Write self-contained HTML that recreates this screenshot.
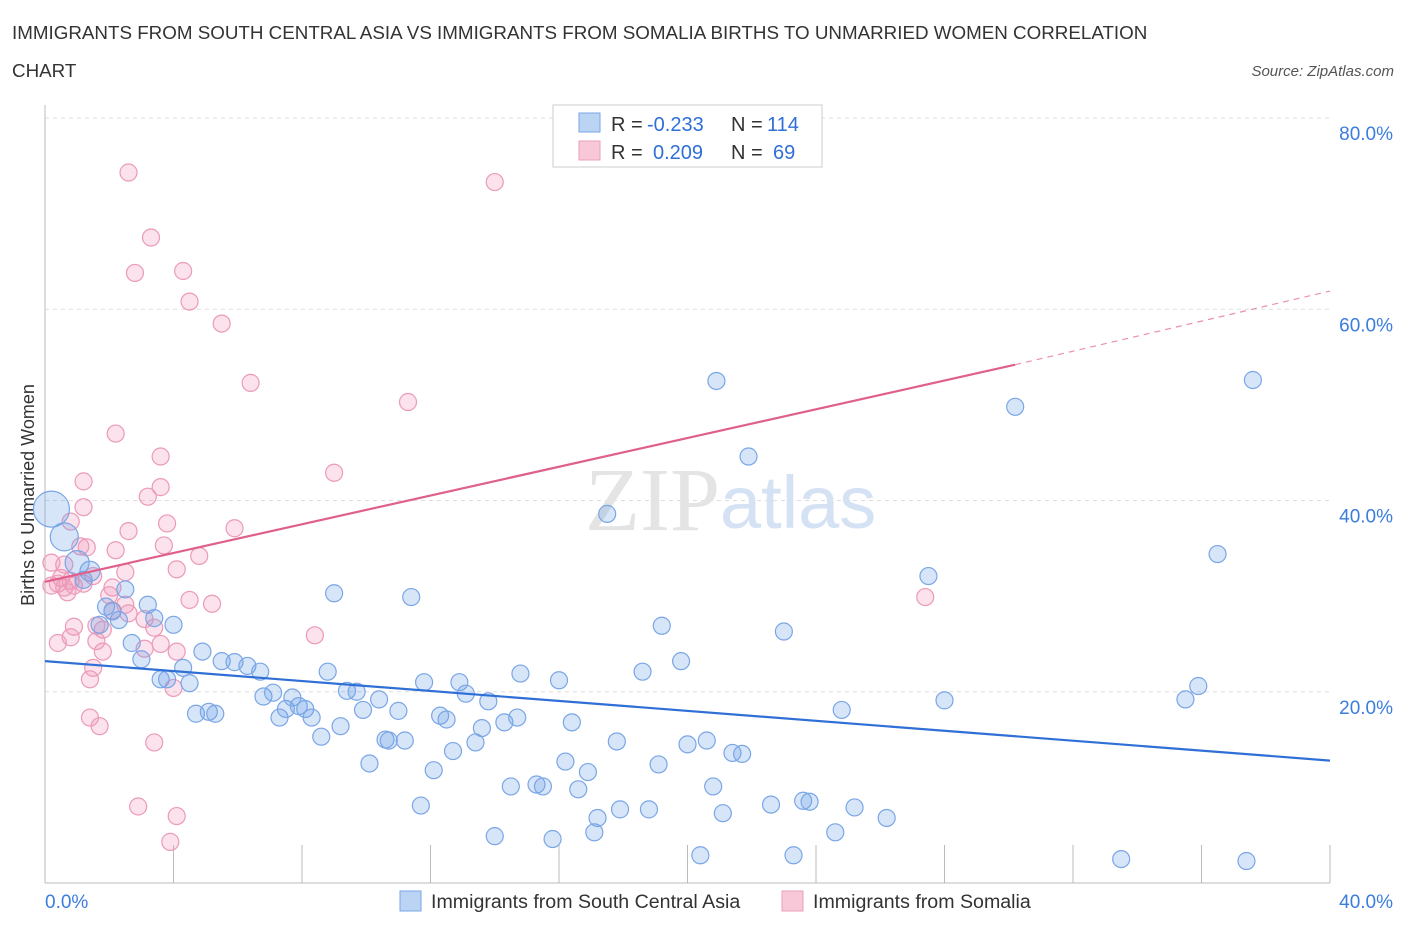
<!DOCTYPE html>
<html><head><meta charset="utf-8"><style>
body{margin:0;background:#fff;font-family:"Liberation Sans",sans-serif;}
svg{display:block}
</style></head><body>
<svg id="chart" width="1406" height="930" xmlns="http://www.w3.org/2000/svg">
<text x="12" y="39" font-size="18.8" fill="#333">IMMIGRANTS FROM SOUTH CENTRAL ASIA VS IMMIGRANTS FROM SOMALIA BIRTHS TO UNMARRIED WOMEN CORRELATION</text>
<text x="12" y="77" font-size="18.8" fill="#333">CHART</text>
<text x="1394" y="76" font-size="15" font-style="italic" fill="#555" text-anchor="end">Source: ZipAtlas.com</text>
<text transform="translate(34,495) rotate(-90)" font-size="18" fill="#333" text-anchor="middle">Births to Unmarried Women</text>
<g id="grid"></g>
<text x="720" y="530" font-size="90" font-family="Liberation Serif,serif" fill="#e4e4e4" text-anchor="end">ZIP</text>
<text x="720" y="528" font-size="74" fill="#d4e2f4">atlas</text>
<g id="points"></g>
<g id="lines"></g>
<g>
<rect x="553" y="105" width="269" height="62" fill="#fff" stroke="#ccc"/>
<rect x="579" y="113" width="21" height="19" fill="#bcd4f4" stroke="#7aa6e6"/>
<rect x="579" y="141" width="21" height="19" fill="#f8c8d8" stroke="#eaa0bc"/>
<text x="611" y="131" font-size="20" fill="#333">R =</text>
<text x="647" y="131" font-size="20" fill="#2f6fd6">-0.233</text>
<text x="731" y="131" font-size="20" fill="#333">N =</text>
<text x="767" y="131" font-size="20" fill="#2f6fd6">114</text>
<text x="611" y="159" font-size="20" fill="#333">R =</text>
<text x="653" y="159" font-size="20" fill="#2f6fd6">0.209</text>
<text x="731" y="159" font-size="20" fill="#333">N =</text>
<text x="773" y="159" font-size="20" fill="#2f6fd6">69</text>
</g>
<g>
<rect x="400" y="891" width="21" height="20" fill="#bcd4f4" stroke="#7aa6e6"/>
<text x="431" y="908" font-size="19.6" fill="#333">Immigrants from South Central Asia</text>
<rect x="782" y="891" width="21" height="20" fill="#f8c8d8" stroke="#eaa0bc"/>
<text x="813" y="908" font-size="19.6" fill="#333">Immigrants from Somalia</text>
</g>
</svg>
<script>
const yTicks=[20,40,60,80];
const xTickLabels=["0.0%","40.0%"];
const blueX=[0.2,0.6,1.0,1.4,1.2,1.9,2.1,2.3,2.5,1.7,2.7,3.2,3.4,4.0,3.0,3.6,3.8,4.3,4.5,4.9,4.7,5.1,5.3,5.5,5.9,6.3,6.7,6.8,7.1,7.3,7.5,7.7,7.9,8.1,8.3,8.6,8.8,9.0,9.2,9.4,9.7,9.9,10.1,10.4,10.6,10.7,11.0,11.2,11.4,11.7,11.8,12.1,12.3,12.5,12.7,12.9,13.1,13.4,13.6,13.8,14.0,14.3,14.5,14.7,14.8,15.3,15.5,15.8,16.0,16.2,16.4,16.6,16.9,17.1,17.2,17.5,17.8,17.9,18.6,18.8,19.1,19.2,19.8,20.0,20.4,20.6,20.8,20.9,21.1,21.4,21.7,21.9,22.6,23.0,23.3,23.6,23.8,24.6,24.8,25.2,26.2,27.5,28.0,30.2,33.5,35.5,35.9,36.5,37.4,37.6];
const blueY=[39.1,36.2,33.5,32.6,31.7,28.9,28.4,27.5,30.7,27.0,25.1,29.1,27.7,27.0,23.4,21.3,21.3,22.5,20.9,24.2,17.7,17.9,17.7,23.2,23.1,22.7,22.1,19.5,19.9,17.3,18.2,19.4,18.5,18.2,17.3,15.3,22.1,30.3,16.4,20.1,20.0,18.1,12.5,19.2,15.0,14.9,18.0,14.9,29.9,8.1,21.0,11.8,17.5,17.1,13.8,21.0,19.8,14.7,16.2,19.0,4.9,16.8,10.1,17.3,21.9,10.3,10.1,4.6,21.2,12.7,16.8,9.8,11.6,5.3,6.8,38.6,14.8,7.7,22.1,7.7,12.4,26.9,23.2,14.5,2.9,14.9,10.1,52.5,7.3,13.6,13.5,44.6,8.2,26.3,2.9,8.6,8.5,5.3,18.1,7.9,6.8,32.1,19.1,49.8,2.5,19.2,20.6,34.4,2.3,52.6];
const blueR=[18,14,12,10];
const pinkX=[2.6,3.3,2.8,4.3,4.5,5.5,6.4,11.3,14.0,2.2,3.6,1.2,3.6,3.2,1.2,0.8,3.8,5.9,2.6,3.7,1.3,2.2,4.8,0.2,4.1,0.5,0.8,0.4,0.9,0.6,1.2,0.2,0.7,2.1,2.0,2.5,4.5,5.2,2.1,2.6,3.1,1.6,0.9,1.8,3.4,8.4,0.8,0.4,1.6,3.1,4.1,3.6,1.8,1.5,4.0,1.4,1.4,1.7,3.4,9.0,27.4,2.9,4.1,3.9,0.6,1.5,1.1,2.5];
const pinkY=[74.3,67.5,63.8,64.0,60.8,58.5,52.3,50.3,73.3,47.0,44.6,42.0,41.4,40.4,39.3,37.8,37.6,37.1,36.8,35.3,35.1,34.8,34.2,33.5,32.8,31.9,31.6,31.3,31.1,30.9,31.3,31.1,30.4,30.9,30.1,29.1,29.6,29.2,28.5,28.2,27.6,26.9,26.8,26.5,26.7,25.9,25.7,25.1,25.3,24.5,24.2,25.0,24.2,22.5,20.4,21.3,17.3,16.4,14.7,42.9,29.9,8.0,7.0,4.3,33.3,32.1,35.2,32.5];
const blueTrend=[[0,23.2],[40,12.8]];
const pinkTrend=[[0,31.5],[30.2,54.2],[40,61.9]];

const NS="http://www.w3.org/2000/svg";
const X0=45,X1=1330,Y0=883,Y80=118;
function sx(v){return X0+(v/40)*(X1-X0);}
function sy(v){return Y0-(v/80)*(Y0-Y80);}
function mk(tag,attrs,parent){const e=document.createElementNS(NS,tag);for(const k in attrs)e.setAttribute(k,attrs[k]);parent.appendChild(e);return e;}
const grid=document.getElementById('grid');
yTicks.forEach(t=>{
  const l=mk('line',{x1:X0,x2:1330,y1:sy(t),y2:sy(t),stroke:'#ddd','stroke-dasharray':'4,4'},grid);
  
  
  const tx=mk('text',{x:1393,y:sy(t)+22,'font-size':19,fill:'#3b7ddd','text-anchor':'end'},grid);
  tx.textContent=t.toFixed(1)+'%';
  
  
});
const ax=mk('line',{x1:X0,x2:X0,y1:105,y2:Y0,stroke:'#bbb'},grid);


const bx=mk('line',{x1:X0,x2:X1,y1:Y0,y2:Y0,stroke:'#bbb'},grid);


for(let i=0;i<=10;i++){
  const t=mk('line',{x1:sx(i*4),x2:sx(i*4),y1:Y0,y2:Y0-38,stroke:'#bbb'},grid);
  
  
}
const xl0=mk('text',{x:45,y:908,'font-size':19,fill:'#3b7ddd'},grid);xl0.textContent=xTickLabels[0];


const xl1=mk('text',{x:1393,y:908,'font-size':19,fill:'#3b7ddd','text-anchor':'end'},grid);xl1.textContent=xTickLabels[1];



const pts=document.getElementById('points');
pinkX.forEach((v,i)=>{
  const c=mk('circle',{cx:sx(v),cy:sy(pinkY[i]),r:8.5,fill:'rgba(240,150,185,0.28)',stroke:'#eb9ab8','stroke-width':1.2},pts);
  
  
});
blueX.forEach((v,i)=>{
  const c=mk('circle',{cx:sx(v),cy:sy(blueY[i]),r:blueR[i]||8.5,fill:'rgba(110,160,230,0.28)',stroke:'#7aa6e6','stroke-width':1.2},pts);
  
  
});
const lines=document.getElementById('lines');
const bl=mk('line',{x1:sx(blueTrend[0][0]),y1:sy(blueTrend[0][1]),x2:sx(blueTrend[1][0]),y2:sy(blueTrend[1][1]),stroke:'#2f6fd6','stroke-width':2.2},lines);


const pl=mk('line',{x1:sx(pinkTrend[0][0]),y1:sy(pinkTrend[0][1]),x2:sx(pinkTrend[1][0]),y2:sy(pinkTrend[1][1]),stroke:'#e0608c','stroke-width':2.2},lines);


const pd=mk('line',{x1:sx(pinkTrend[1][0]),y1:sy(pinkTrend[1][1]),x2:sx(pinkTrend[2][0]),y2:sy(pinkTrend[2][1]),stroke:'#e890b0','stroke-width':1.2,'stroke-dasharray':'6,5'},lines);


</script>
</body></html>
